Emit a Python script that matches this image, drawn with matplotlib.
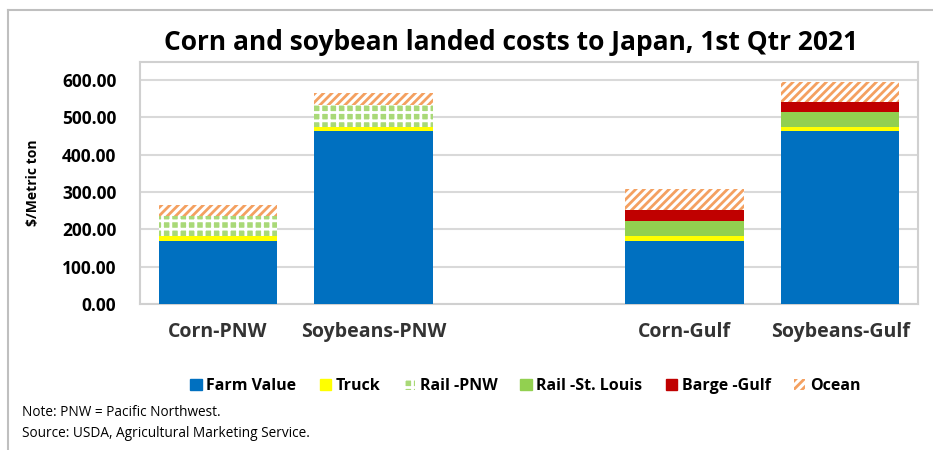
import numpy as np
import matplotlib
matplotlib.use("Agg")
import matplotlib.pyplot as plt
import matplotlib.patches as mpatches
from matplotlib.lines import Line2D

plt.rcParams["font.family"] = ["Open Sans", "DejaVu Sans"]
plt.rcParams["hatch.linewidth"] = 2.0

# categories (blank slot in the middle separates PNW and Gulf routes)
categories = ["Corn-PNW", "Soybeans-PNW", "", "Corn-Gulf", "Soybeans-Gulf"]

# $/metric ton
farm_value = [170, 462, 0, 170, 462]
truck      = [13, 13, 0, 13, 13]
rail_pnw   = [52, 58, 0, 0, 0]
rail_stl   = [0, 0, 0, 40, 38]
barge_gulf = [0, 0, 0, 30, 27]
ocean      = [31, 33, 0, 54, 54]

series_names = ["Farm Value", "Truck", "Rail -PNW", "Rail -St. Louis",
                "Barge -Gulf", "Ocean"]
yticks = [0, 100, 200, 300, 400, 500, 600]

STYLES = [
    dict(color="#0070C0"),
    dict(color="#FFFF00"),
    dict(facecolor="#A9D977", hatch="++", edgecolor="white", linewidth=0),
    dict(color="#92D050"),
    dict(color="#C00000"),
    dict(facecolor="white", hatch="////", edgecolor="#F4A060", linewidth=0),
]

fig = plt.figure(figsize=(9.33, 4.5), dpi=100)
ax = fig.add_axes([0.150, 0.3244, 0.834, 0.5378])

x = np.arange(len(categories))
bottom = np.zeros(len(categories))
handles = []
for name, vals, st in zip(series_names,
                          [farm_value, truck, rail_pnw, rail_stl, barge_gulf, ocean],
                          STYLES):
    vals = np.array(vals, dtype=float)
    ax.bar(x, vals, bottom=bottom, width=0.76, zorder=3, **st)
    bottom += vals
    handles.append(mpatches.Patch(label=name, **st))

ax.set_xlim(-0.5, len(categories) - 0.5)
ax.set_ylim(0, 648)
ax.set_yticks(yticks)
ax.set_yticklabels([f"{v:.2f}" for v in yticks], fontsize=12.5, fontweight="bold")
ax.set_xticks([0, 1, 3, 4])
ax.set_xticklabels([categories[i] for i in [0, 1, 3, 4]],
                   fontsize=14, fontweight="bold", color="#333333")
ax.tick_params(length=0)
ax.tick_params(axis="y", pad=17)
ax.tick_params(axis="x", pad=13)
ax.grid(axis="y", color="#D9D9D9", linewidth=1.5, zorder=0)
for s in ax.spines.values():
    s.set_color("#D0D0D0")
    s.set_linewidth(1.5)
ax.set_ylabel("$/Metric ton", fontsize=10, fontweight="bold")
ax.yaxis.set_label_coords(-0.128, 0.5)

fig.text(0.548, 0.905, "Corn and soybean landed costs to Japan, 1st Qtr 2021",
         ha="center", va="center", fontsize=19, fontweight="bold")

fig.legend(handles=handles, loc="center", bbox_to_anchor=(0.563, 0.142),
           ncol=6, frameon=False,
           prop={"weight": "bold", "size": 11.5},
           handlelength=0.7, handleheight=0.7, handletextpad=0.3,
           columnspacing=1.45)

fig.text(0.024, 0.084, "Note: PNW = Pacific Northwest.", fontsize=9.8, va="center")
fig.text(0.024, 0.037, "Source: USDA, Agricultural Marketing Service.",
         fontsize=9.8, va="center")

# chart area border (top and left edges visible in the original)
fig.add_artist(Line2D([0.0086, 1.0], [0.978, 0.978], transform=fig.transFigure,
                      color="#BFBFBF", linewidth=1.5))
fig.add_artist(Line2D([0.0086, 0.0086], [0.0, 0.978], transform=fig.transFigure,
                      color="#BFBFBF", linewidth=1.5))

fig.savefig("out.png", dpi=100)
